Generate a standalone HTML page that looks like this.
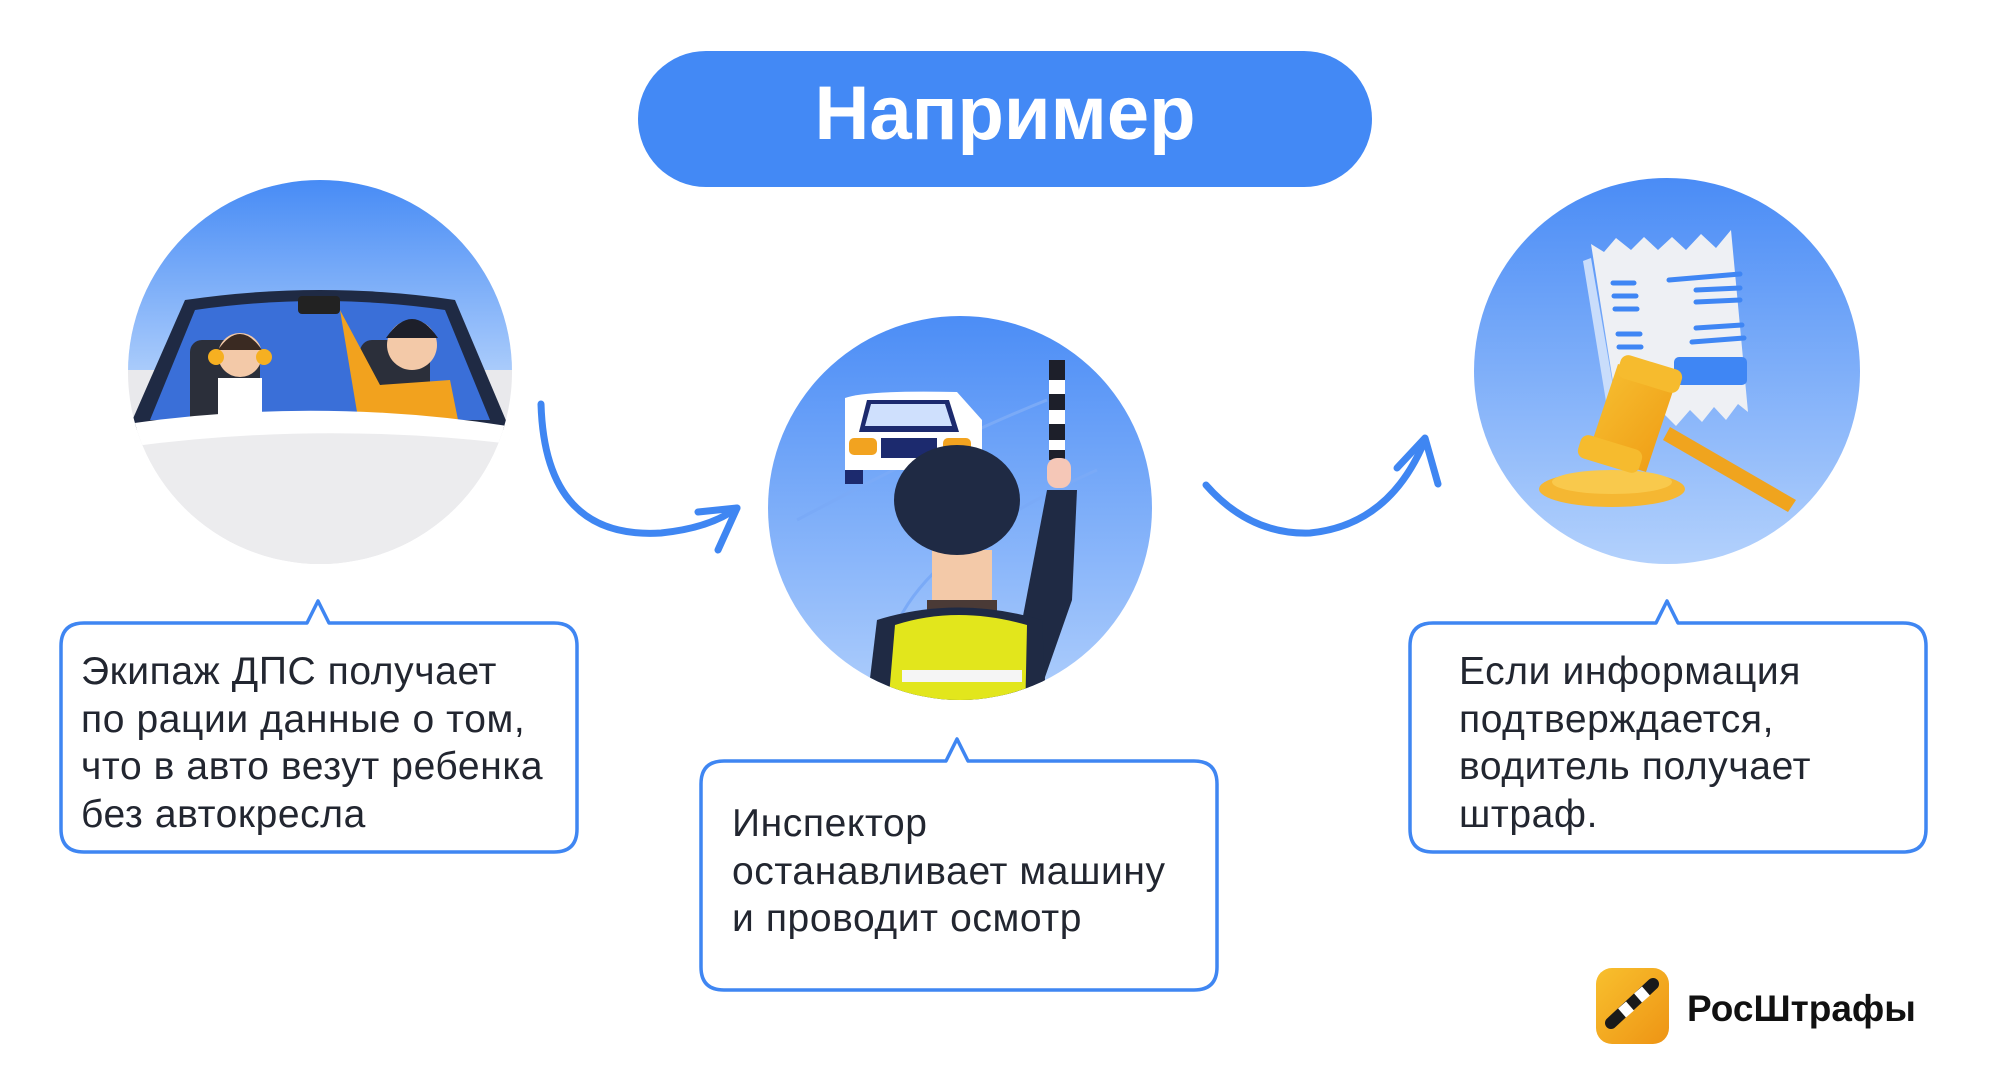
<!DOCTYPE html>
<html><head><meta charset="utf-8"><style>
html,body{margin:0;padding:0;background:#fff;}
body{width:2000px;height:1087px;overflow:hidden;position:relative;font-family:"Liberation Sans","DejaVu Sans",sans-serif;}
svg{position:absolute;left:0;top:0;}
.t{position:absolute;font-size:39px;line-height:47.5px;color:#222630;letter-spacing:0.6px;}
</style></head><body>
<svg width="2000" height="1087" viewBox="0 0 2000 1087">
<defs>
<linearGradient id="g1" x1="0" y1="0" x2="0" y2="1"><stop offset="0" stop-color="#4288f5"/><stop offset="1" stop-color="#a9cbfb"/></linearGradient>
<linearGradient id="g2" x1="0" y1="0" x2="0" y2="1"><stop offset="0" stop-color="#4a8cf6"/><stop offset="1" stop-color="#b3d1fc"/></linearGradient>
<linearGradient id="go" x1="0" y1="0" x2="1" y2="1"><stop offset="0" stop-color="#f7c234"/><stop offset="1" stop-color="#ef9a12"/></linearGradient>
<clipPath id="c1"><circle cx="320" cy="372" r="192"/></clipPath>
<clipPath id="c2"><circle cx="963" cy="508" r="192"/></clipPath>
</defs>
<!-- title -->
<rect x="638" y="51" width="734" height="136" rx="68" fill="#4389f5"/>
<text x="1005" y="139" text-anchor="middle" font-family="Liberation Sans, sans-serif" font-weight="bold" font-size="76" fill="#fff">Например</text>

<!-- circle 1 -->
<g clip-path="url(#c1)">
<rect x="120" y="170" width="400" height="400" fill="#e9e9ec"/>
<rect x="120" y="170" width="400" height="200" fill="url(#g1)"/>
<path d="M128 430 L185 300 Q320 280 455 300 L510 430 Z" fill="#1f2a44"/>
<path d="M150 420 L195 310 Q320 292 445 310 L490 420 Z" fill="#3a6fd8"/>
<rect x="190" y="340" width="70" height="90" rx="12" fill="#2b2f3a"/>
<rect x="360" y="340" width="70" height="90" rx="12" fill="#2b2f3a"/>
<circle cx="240" cy="355" r="22" fill="#f3c9a8"/>
<path d="M218 350 Q240 318 262 350" fill="#3a2a22"/>
<circle cx="216" cy="357" r="8" fill="#f6b021"/><circle cx="264" cy="357" r="8" fill="#f6b021"/>
<rect x="218" y="378" width="44" height="55" fill="#fff"/>
<circle cx="412" cy="345" r="25" fill="#f3c9a8"/>
<path d="M386 338 Q412 300 438 338" fill="#1d1f2a"/>
<path d="M340 310 L380 385 L450 380 L460 430 L360 430 Z" fill="#f2a21e"/>
<rect x="298" y="296" width="42" height="18" rx="4" fill="#222"/>
<path d="M120 430 Q320 415 520 430 L520 570 L120 570 Z" fill="#ececee"/>
<path d="M120 425 Q320 395 520 428 L520 445 Q320 420 120 448 Z" fill="#fff"/>
</g>

<!-- circle 2 -->
<g clip-path="url(#c2)" transform="translate(-3 0)">
<rect x="760" y="310" width="410" height="410" fill="url(#g2)"/>
<path d="M800 520 Q950 440 1050 400" stroke="#7aaaf7" stroke-width="3" fill="none"/>
<path d="M890 660 Q900 560 1100 470" stroke="#7aaaf7" stroke-width="3" fill="none"/>
<path d="M848 398 Q870 390 960 392 L985 420 L985 470 L848 470 Z" fill="#fff"/>
<path d="M870 400 L952 400 L962 432 L862 432 Z" fill="#1c2a6e"/>
<path d="M874 404 L948 404 L955 426 L868 426 Z" fill="#cfe0fd"/>
<rect x="852" y="438" width="28" height="17" rx="5" fill="#f2a320"/>
<rect x="946" y="438" width="28" height="17" rx="5" fill="#f2a320"/>
<rect x="884" y="438" width="56" height="20" fill="#1c2a6e"/>
<rect x="848" y="470" width="18" height="14" fill="#1c2a6e"/>
<path d="M1052 360 L1068 360 L1068 460 L1052 460 Z" fill="#1d1f2a"/>
<rect x="1052" y="380" width="16" height="14" fill="#fff"/><rect x="1052" y="410" width="16" height="14" fill="#fff"/><rect x="1052" y="440" width="16" height="10" fill="#fff"/>
<rect x="1050" y="458" width="24" height="30" rx="10" fill="#f5c7b7"/>
<path d="M1050 490 L1080 490 L1075 600 L1040 700 L1010 700 Z" fill="#1f2a44"/>
<rect x="935" y="550" width="60" height="70" fill="#f3c9a8"/>
<rect x="930" y="600" width="70" height="20" fill="#4a3a36"/>
<ellipse cx="960" cy="500" rx="63" ry="55" fill="#1f2a44"/>
<path d="M868 720 L880 620 Q960 595 1045 620 L1050 720 Z" fill="#1f2a44"/>
<path d="M890 720 L898 625 Q960 605 1030 625 L1028 720 Z" fill="#e2e61c"/>
<rect x="905" y="670" width="120" height="12" fill="#f5f5f5"/>
</g>

<!-- circle 3 -->
<g transform="translate(-4 2)">
<circle cx="1671" cy="369" r="193" fill="url(#g2)"/>
<path d="M1587 259 L1595 256 L1625 430 L1615 430 Z" fill="#c9ddfb"/>
<path d="M1595 242 L1608 250 L1620 236 L1635 248 L1648 235 L1662 248 L1676 235 L1690 248 L1705 232 L1720 246 L1735 228 L1752 410 L1742 402 L1730 418 L1718 405 L1706 420 L1694 408 L1680 424 L1668 412 L1640 430 L1625 430 Z" fill="#eef0f4"/>
<g stroke="#3f86f4" stroke-width="5" stroke-linecap="round">
<line x1="1617" y1="281" x2="1638" y2="281"/><line x1="1618" y1="294" x2="1640" y2="294"/><line x1="1619" y1="307" x2="1641" y2="307"/>
<line x1="1622" y1="332" x2="1644" y2="332"/><line x1="1623" y1="345" x2="1645" y2="345"/>
<line x1="1673" y1="278" x2="1744" y2="272"/><line x1="1700" y1="288" x2="1744" y2="286"/><line x1="1700" y1="300" x2="1744" y2="298"/>
<line x1="1700" y1="326" x2="1746" y2="323"/><line x1="1696" y1="340" x2="1748" y2="336"/>
</g>
<rect x="1678" y="355" width="73" height="28" rx="5" fill="#3f86f4"/>
<path d="M1674 425 L1800 498 L1792 510 L1667 438 Z" fill="#f0a41e"/>
<ellipse cx="1616" cy="487" rx="73" ry="18" fill="#f5b732"/>
<ellipse cx="1616" cy="480" rx="60" ry="12" fill="#f9c94c"/>
<path d="M1622 362 L1680 380 L1650 470 L1592 452 Z" fill="url(#go)"/>
<rect x="1622" y="360" width="64" height="24" rx="8" transform="rotate(17 1654 372)" fill="#f6bb2e"/>
<rect x="1582" y="440" width="64" height="24" rx="8" transform="rotate(17 1614 452)" fill="#f6bb2e"/>
</g>

<!-- arrows -->
<g stroke="#3f86f2" stroke-width="7" fill="none" stroke-linecap="round" stroke-linejoin="round">
<path d="M541 404 Q545 540 661 533 Q710 528 737 508"/>
<path d="M698 512 L737 508 L718 550"/>
<path d="M1206 485 Q1250 535 1310 533 Q1390 525 1425 440"/>
<path d="M1397 468 L1425 438 L1438 484"/>
</g>

<!-- boxes -->
<g fill="#fff" stroke="#3f86f2" stroke-width="3.5" stroke-linejoin="round">
<path d="M84 623 L307 623 L318 601 L329 623 L554 623 Q577 623 577 646 L577 829 Q577 852 554 852 L84 852 Q61 852 61 829 L61 646 Q61 623 84 623 Z"/>
<path d="M724 761 L946 761 L957 739 L968 761 L1194 761 Q1217 761 1217 784 L1217 967 Q1217 990 1194 990 L724 990 Q701 990 701 967 L701 784 Q701 761 724 761 Z"/>
<path d="M1433 623 L1656 623 L1667 601 L1678 623 L1903 623 Q1926 623 1926 646 L1926 829 Q1926 852 1903 852 L1433 852 Q1410 852 1410 829 L1410 646 Q1410 623 1433 623 Z"/>
</g>

<!-- logo -->
<defs><linearGradient id="gl" x1="0" y1="0" x2="1" y2="1"><stop offset="0" stop-color="#f8c02e"/><stop offset="1" stop-color="#ee9414"/></linearGradient></defs>
<rect x="1596" y="968" width="73" height="76" rx="16" fill="url(#gl)"/>
<line x1="1611" y1="1023" x2="1653" y2="984" stroke="#1a1a1a" stroke-width="12" stroke-linecap="round"/>
<line x1="1622" y1="1013" x2="1630" y2="1006" stroke="#fff" stroke-width="12"/>
<line x1="1638" y1="998" x2="1646" y2="991" stroke="#fff" stroke-width="12"/>
<text x="1687" y="1021" font-family="Liberation Sans, sans-serif" font-weight="bold" font-size="37" fill="#111">РосШтрафы</text>
</svg>
<div class="t" style="left:81px;top:648px;">Экипаж ДПС получает<br>по рации данные о том,<br>что в авто везут ребенка<br>без автокресла</div>
<div class="t" style="left:732px;top:800px;">Инспектор<br>останавливает машину<br>и проводит осмотр</div>
<div class="t" style="left:1459px;top:648px;">Если информация<br>подтверждается,<br>водитель получает<br>штраф.</div>
</body></html>
